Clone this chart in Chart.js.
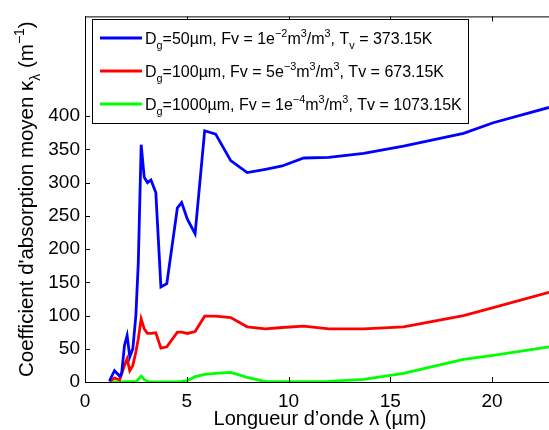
<!DOCTYPE html>
<html>
<head>
<meta charset="utf-8">
<script src="https://cdn.jsdelivr.net/npm/chart.js@4.4.0/dist/chart.umd.min.js"></script>
<style>
  html, body { margin: 0; padding: 0; background: #fff; }
  #wrap { width: 549px; height: 430px; }
</style>
</head>
<body>
<div id="wrap"><canvas id="kappaChart" width="549" height="430"></canvas></div>
<script>
// wavelength grid (µm) and mean absorption coefficient (m^-1)
const wavelength = [1.2, 1.45, 1.7, 1.8, 1.94, 2.07, 2.2, 2.35, 2.5, 2.62, 2.76, 2.91, 3.07, 3.24, 3.48, 3.73, 4.02, 4.54, 4.75, 5.03, 5.41, 5.88, 6.42, 7.16, 7.97, 8.87, 9.69, 10.75, 11.98, 13.69, 15.65, 18.6, 20.06, 22.8];
const kappa50 = [1.5, 17, 9, 13, 55, 70, 38, 50, 100, 180, 357, 308, 300, 304, 285, 143, 148, 262, 270, 245, 223, 378, 373, 333, 315, 320, 325, 337, 338, 344, 355, 374, 390, 413];
const kappa100 = [1, 6, 3, 12, 25, 35, 17, 25, 45, 65, 95, 80, 73, 73, 74, 51, 53, 75, 75, 73, 76, 99, 99, 97, 83, 80, 82, 84, 80, 80, 83, 100, 112, 135];
const kappa1000 = [0, 0, 0, 0, 0.5, 0.5, 0.5, 0.5, 0.5, 4, 9, 4, 1, 0, 0, 0, 0, 0.5, 1, 2, 8, 11.5, 13, 14.5, 7, 0.5, 0.5, 0.5, 1, 4, 13, 34, 40, 53];

const xTicks = [0, 5, 10, 15, 20];
const yTicks = [0, 50, 100, 150, 200, 250, 300, 350, 400];

// legend entries: [text, kind]  kind: "" normal, "b" subscript, "p" superscript
const legendRows = [
  { color: "#0000ff", parts: [["D", ""], ["g", "b"], ["=50µm, Fv = 1e", ""], ["−2", "p"], ["m", ""], ["3", "p"], ["/m", ""], ["3", "p"], [", T", ""], ["v", "b"], [" = 373.15K", ""]] },
  { color: "#ff0000", parts: [["D", ""], ["g", "b"], ["=100µm, Fv = 5e", ""], ["−3", "p"], ["m", ""], ["3", "p"], ["/m", ""], ["3", "p"], [", Tv = 673.15K", ""]] },
  { color: "#00ff00", parts: [["D", ""], ["g", "b"], ["=1000µm, Fv = 1e", ""], ["−4", "p"], ["m", ""], ["3", "p"], ["/m", ""], ["3", "p"], [", Tv = 1073.15K", ""]] }
];
const yTitle = [["Coefficient d'absorption moyen κ", ""], ["λ", "b"], [" (m", ""], ["−1", "p"], [")", ""]];
const xTitle = "Longueur d’onde λ (µm)";

const FONT = "'Liberation Sans', Arial, sans-serif";

function toPoints(ys) {
  return wavelength.map((x, i) => ({ x: x, y: ys[i] }));
}

function richWidth(ctx, parts, size) {
  let w = 0;
  parts.forEach(([t, k]) => {
    ctx.font = (k ? size * 0.68 : size) + "px " + FONT;
    w += ctx.measureText(t).width;
  });
  return w;
}

function drawRich(ctx, parts, x, y, size) {
  ctx.textBaseline = "alphabetic";
  ctx.textAlign = "left";
  parts.forEach(([t, k]) => {
    const s = k ? size * 0.68 : size;
    ctx.font = s + "px " + FONT;
    let dy = 0;
    if (k === "b") dy = size * 0.32;
    if (k === "p") dy = -size * 0.42;
    ctx.fillText(t, x, y + dy);
    x += ctx.measureText(t).width;
  });
}

const decorPlugin = {
  id: "matlabDecor",
  afterDraw(chart) {
    const ctx = chart.ctx;
    const a = chart.chartArea;
    const xs = chart.scales.x, ys = chart.scales.y;
    ctx.save();
    ctx.strokeStyle = "#000";
    ctx.lineWidth = 1;
    // top border
    ctx.beginPath();
    ctx.moveTo(a.left, a.top + 0.5);
    ctx.lineTo(a.right, a.top + 0.5);
    ctx.stroke();
    // inward ticks
    ctx.beginPath();
    xTicks.forEach(v => {
      const px = Math.round(xs.getPixelForValue(v)) + 0.5;
      ctx.moveTo(px, a.bottom); ctx.lineTo(px, a.bottom - 5);
      ctx.moveTo(px, a.top); ctx.lineTo(px, a.top + 5);
    });
    yTicks.forEach(v => {
      const py = Math.round(ys.getPixelForValue(v)) + 0.5;
      ctx.moveTo(a.left, py); ctx.lineTo(a.left + 5, py);
    });
    ctx.stroke();

    // legend box
    const bx = 92, by = 19, bw = 376, bh = 104;
    ctx.fillStyle = "#fff";
    ctx.fillRect(bx, by, bw, bh);
    ctx.strokeRect(bx + 0.5, by + 0.5, bw, bh);
    const rowY = [38, 71, 104];
    legendRows.forEach((row, i) => {
      ctx.strokeStyle = row.color;
      ctx.lineWidth = 3;
      ctx.beginPath();
      ctx.moveTo(100, rowY[i]);
      ctx.lineTo(142, rowY[i]);
      ctx.stroke();
      ctx.fillStyle = "#000";
      drawRich(ctx, row.parts, 145, rowY[i] + 5.5, 16);
    });

    // axis titles
    ctx.fillStyle = "#000";
    ctx.font = "20px " + FONT;
    ctx.textAlign = "center";
    ctx.textBaseline = "alphabetic";
    ctx.fillText(xTitle, 320, 425);

    ctx.translate(33, (a.top + a.bottom) / 2);
    ctx.rotate(-Math.PI / 2);
    const w = richWidth(ctx, yTitle, 20.5);
    drawRich(ctx, yTitle, -w / 2, 0, 20.5);
    ctx.restore();
  }
};

const ctx = document.getElementById("kappaChart").getContext("2d");
new Chart(ctx, {
  type: "line",
  data: {
    datasets: [
      { data: toPoints(kappa50), borderColor: "#0000ff", borderWidth: 2.8, pointRadius: 0, tension: 0, fill: false },
      { data: toPoints(kappa100), borderColor: "#ff0000", borderWidth: 2.8, pointRadius: 0, tension: 0, fill: false },
      { data: toPoints(kappa1000), borderColor: "#00ff00", borderWidth: 2.8, pointRadius: 0, tension: 0, fill: false }
    ]
  },
  options: {
    responsive: false,
    animation: false,
    layout: { padding: { top: 13, right: 0, left: 0, bottom: 0 } },
    plugins: { legend: { display: false }, tooltip: { enabled: false } },
    scales: {
      x: {
        type: "linear",
        min: 0,
        max: 22.8,
        afterBuildTicks: (s) => { s.ticks = xTicks.map(v => ({ value: v })); },
        afterFit: (s) => { s.height = 48; },
        grid: { display: false, drawTicks: false },
        border: { display: true, color: "#000", width: 1 },
        ticks: { color: "#000", font: { family: FONT, size: 19 }, padding: 8, maxRotation: 0 }
      },
      y: {
        min: 0,
        max: 550,
        afterBuildTicks: (s) => { s.ticks = yTicks.map(v => ({ value: v })); },
        afterFit: (s) => { s.width = 85; },
        grid: { display: false, drawTicks: false },
        border: { display: true, color: "#000", width: 1 },
        ticks: { color: "#000", font: { family: FONT, size: 19 }, padding: 5 }
      }
    }
  },
  plugins: [decorPlugin]
});
</script>
</body>
</html>
